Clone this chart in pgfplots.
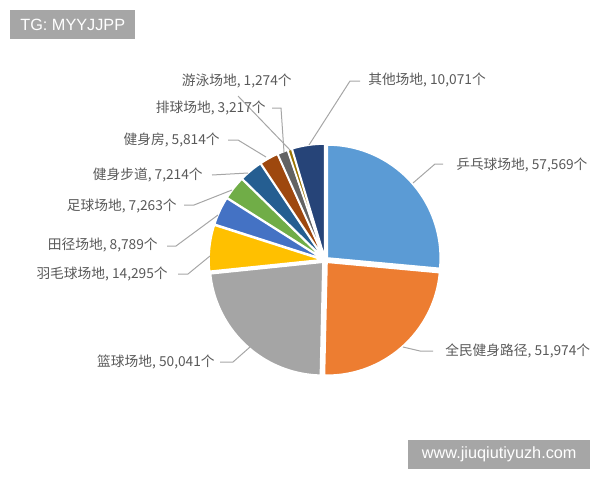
\documentclass[border=0pt]{standalone}
\usepackage{pgfplots}
\pgfplotsset{compat=1.18}
\usepackage{fontspec}
\setmainfont{Liberation Sans}
\newfontfamily\cjk{Noto Sans CJK SC}
\definecolor{c1}{HTML}{5B9BD5}
\definecolor{c2}{HTML}{ED7D31}
\definecolor{c3}{HTML}{A5A5A5}
\definecolor{c4}{HTML}{FFC000}
\definecolor{c5}{HTML}{4472C4}
\definecolor{c6}{HTML}{70AD47}
\definecolor{c7}{HTML}{255E91}
\definecolor{c8}{HTML}{9E480E}
\definecolor{c9}{HTML}{636363}
\definecolor{c10}{HTML}{997300}
\definecolor{c11}{HTML}{264478}
\definecolor{lab}{HTML}{595959}
\definecolor{lead}{HTML}{A6A6A6}
\definecolor{boxg}{HTML}{A6A6A6}
\begin{document}
\begin{tikzpicture}
\begin{axis}[width=450pt,height=360pt,scale only axis,
  xmin=0,xmax=600,ymin=0,ymax=480,y dir=reverse,hide axis,clip=false]
\def\total{217521}
\gdef\cum{0}
\foreach \v/\col in {57569/c1,51974/c2,50041/c3,14295/c4,8789/c5,7263/c6,7214/c7,5814/c8,3217/c9,1274/c10,10071/c11}{%
  \edef\a{\fpeval{90-360*\cum/\total}}%
  \xdef\cum{\fpeval{\cum+\v}}%
  \edef\b{\fpeval{90-360*\cum/\total}}%
  \edef\ox{\fpeval{325+3*cosd((\a+\b)/2)}}%
  \edef\oy{\fpeval{260-3*sind((\a+\b)/2)}}%
  \edef\temp{\noexpand\addplot[fill=\col,draw=white,line width=1.2pt,line join=round,domain=\b:\a,samples=60] ({\ox+113*cos(x)},{\oy-113*sin(x)}) -- (axis cs:\ox,\oy) -- cycle;}%
  \temp
}
% leader lines
\addplot[lead,line width=0.75pt] coordinates {(443,164)(435,164)(413,183)};
\addplot[lead,line width=0.75pt] coordinates {(433,351)(420,351)(403,347)};
\addplot[lead,line width=0.75pt] coordinates {(360,81)(350,81)(309,145)};
\addplot[lead,line width=0.75pt] coordinates {(220,362)(233,362)(250,347)};
\addplot[lead,line width=0.75pt] coordinates {(178,274)(188,274)(210,256)};
\addplot[lead,line width=0.75pt] coordinates {(167,246)(176,246)(218,215)};
\addplot[lead,line width=0.75pt] coordinates {(184,205)(194,205)(232,190)};
\addplot[lead,line width=0.75pt] coordinates {(212,175)(248,173)};
\addplot[lead,line width=0.75pt] coordinates {(228,140)(238,140)(266,157)};
\addplot[lead,line width=0.75pt] coordinates {(272,108)(281,108)(284,152)};
\addplot[lead,line width=0.75pt] coordinates {(238,96)(290,150)};
% labels
\tikzset{lbl/.style={inner sep=0pt,text=lab,font=\cjk\fontsize{10.3}{12}\selectfont}}
\node[lbl,anchor=west] at (axis cs:456,165) {乒乓球场地, 57,569个};
\node[lbl,anchor=west] at (axis cs:445,351) {全民健身路径, 51,974个};
\node[lbl,anchor=west] at (axis cs:368,80) {其他场地, 10,071个};
\node[lbl,anchor=east] at (axis cs:215,362) {篮球场地, 50,041个};
\node[lbl,anchor=east] at (axis cs:168,274) {羽毛球场地, 14,295个};
\node[lbl,anchor=east] at (axis cs:158,245) {田径场地, 8,789个};
\node[lbl,anchor=east] at (axis cs:177,206) {足球场地, 7,263个};
\node[lbl,anchor=east] at (axis cs:203,175) {健身步道, 7,214个};
\node[lbl,anchor=east] at (axis cs:220,140) {健身房, 5,814个};
\node[lbl,anchor=east] at (axis cs:266,108) {排球场地, 3,217个};
\node[lbl,anchor=east] at (axis cs:292,81) {游泳场地, 1,274个};
% watermark boxes
\node[fill=boxg,text=white,inner sep=0pt,anchor=north west,minimum width=93.75pt,minimum height=21.75pt,font=\fontsize{12.2}{14}\selectfont] at (axis cs:10,10) {TG: MYYJJPP};
\node[fill=boxg,text=white,inner sep=0pt,anchor=north west,minimum width=136.5pt,minimum height=21.75pt,font=\fontsize{12.2}{14}\selectfont] at (axis cs:408,440) {www.jiuqiutiyuzh.com};
\end{axis}
\pgfresetboundingbox
\path (current axis.south west) rectangle (current axis.north east);
\end{tikzpicture}
\end{document}
